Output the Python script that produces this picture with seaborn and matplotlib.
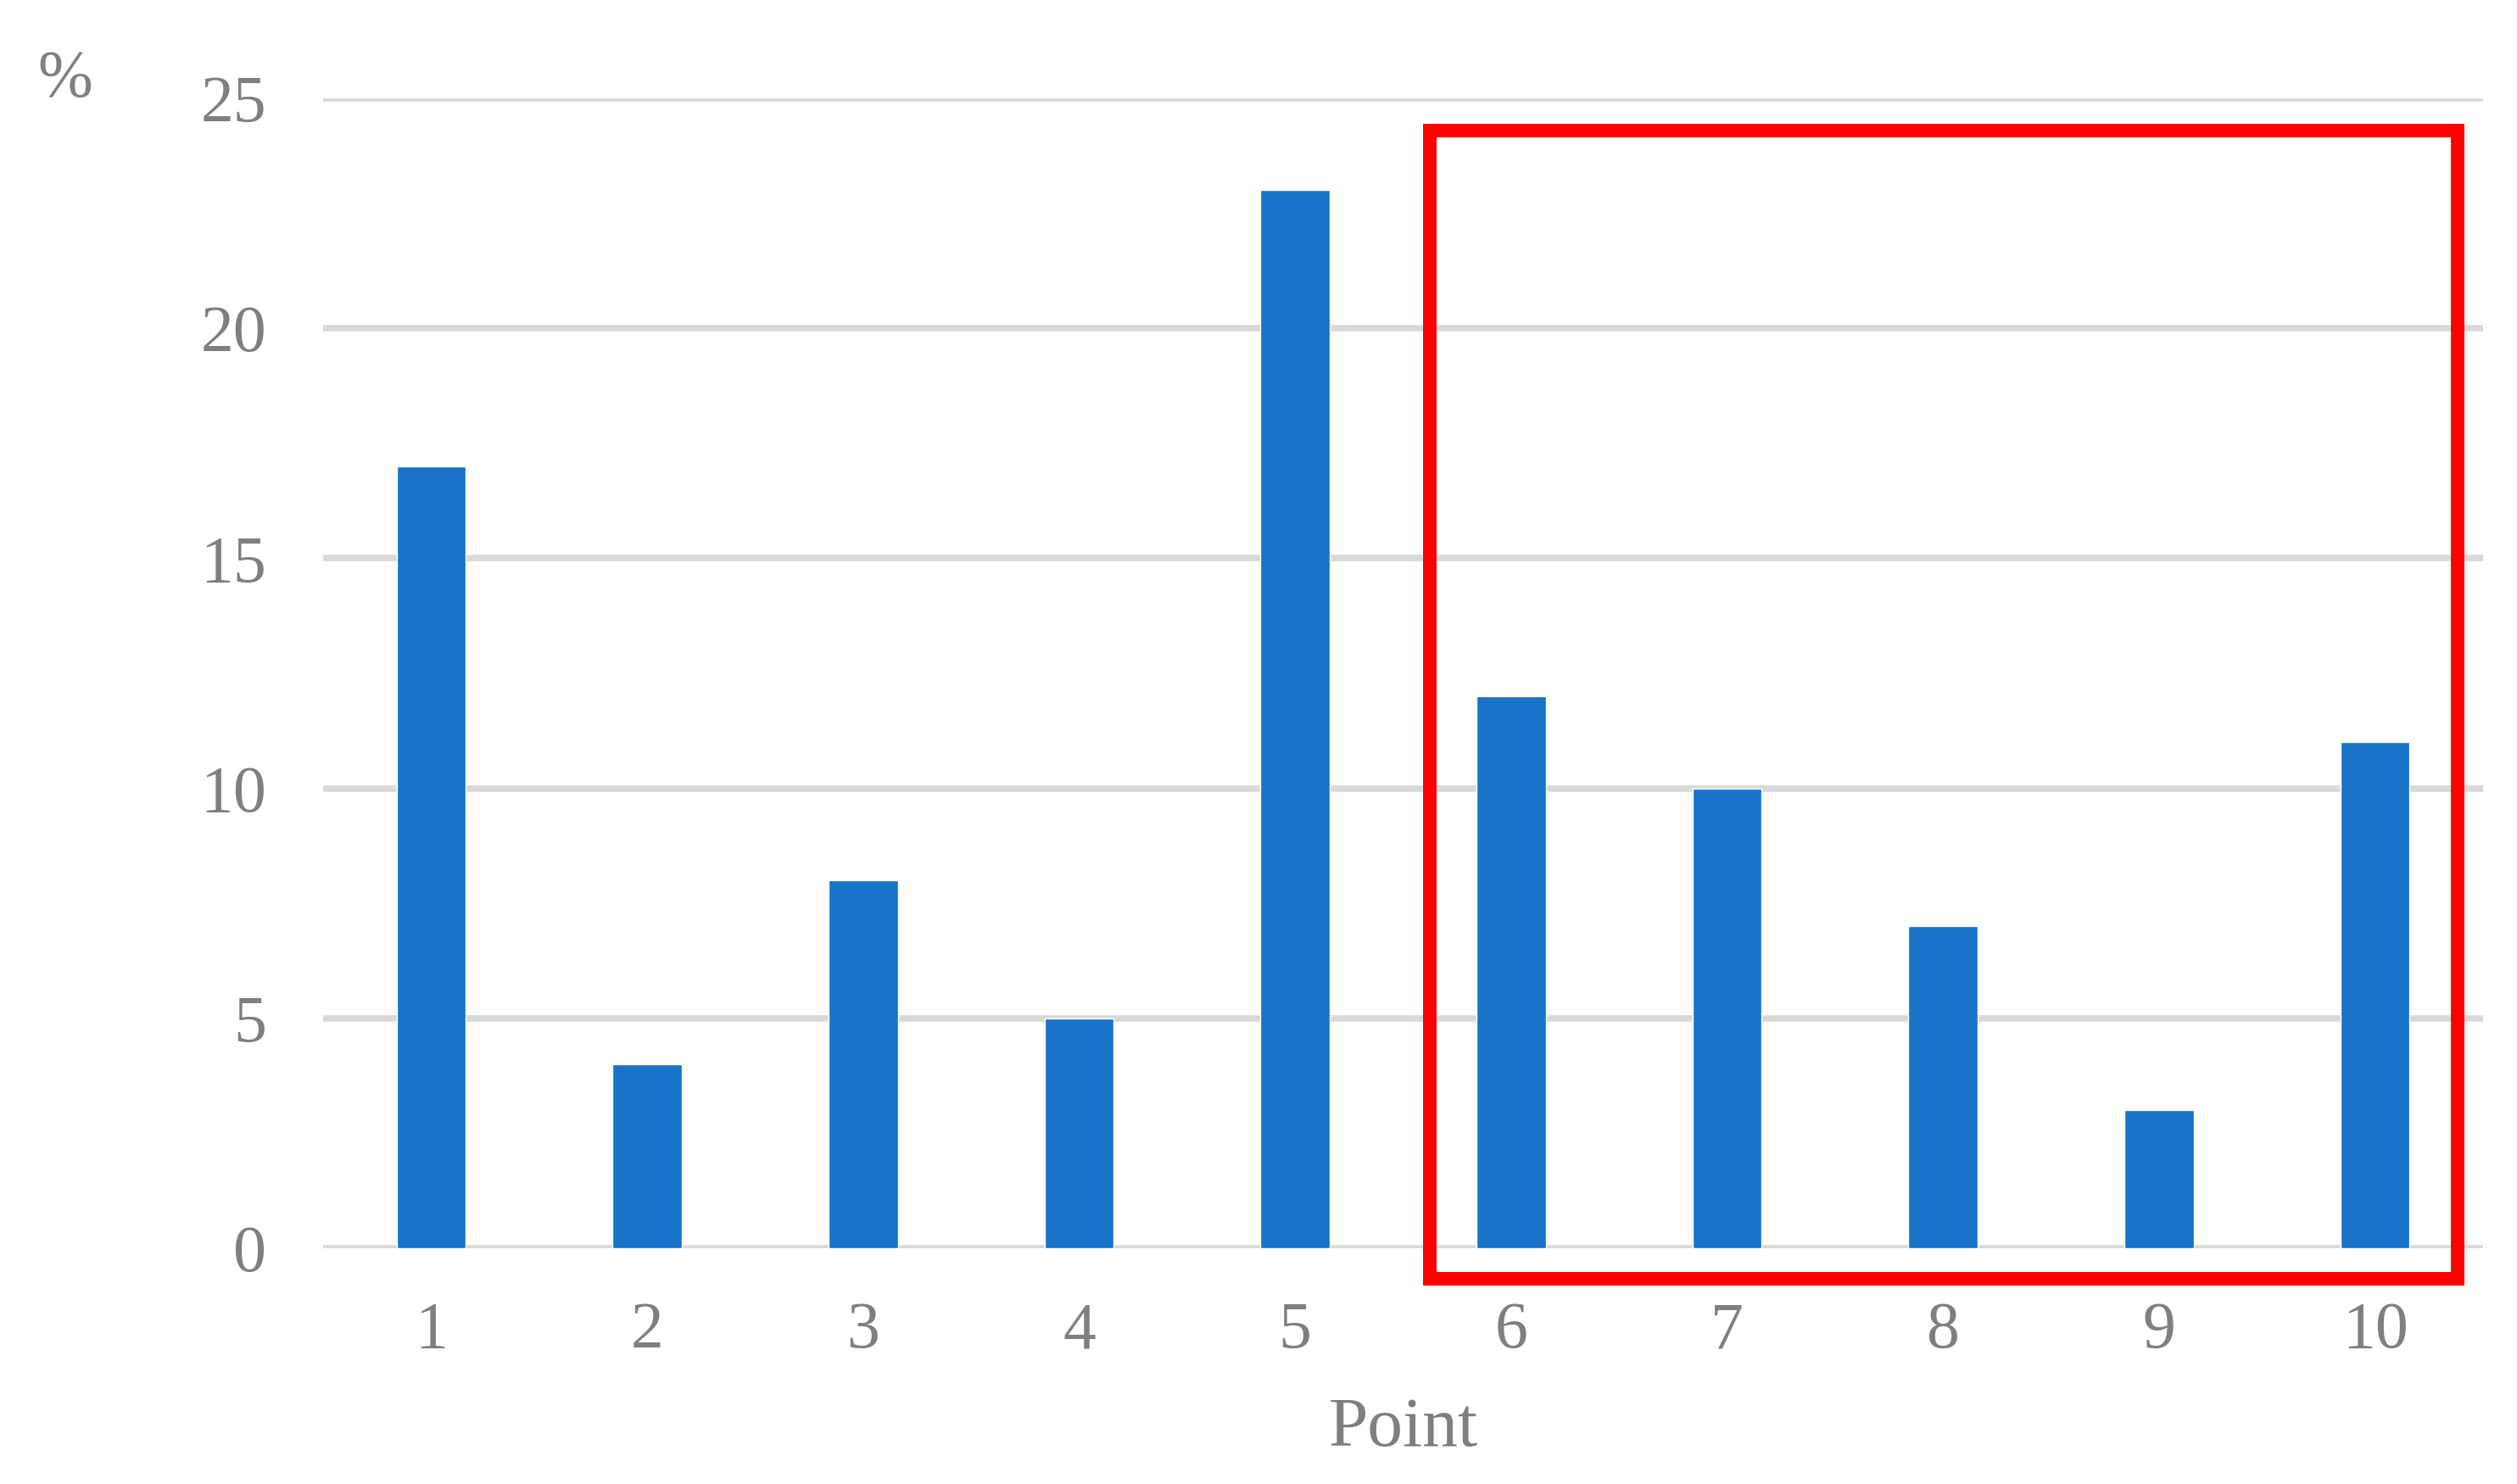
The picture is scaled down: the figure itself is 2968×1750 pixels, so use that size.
import matplotlib
matplotlib.use("Agg")
import matplotlib.pyplot as plt
import matplotlib.patches as mpatches
import seaborn as sns
import pandas as pd

points = ["1", "2", "3", "4", "5", "6", "7", "8", "9", "10"]
values = [17, 4, 8, 5, 23, 12, 10, 7, 3, 11]
y_ticks = [0, 5, 10, 15, 20, 25]

sns.set_theme(style="white")
plt.rcParams['font.family'] = ['Liberation Serif', 'DejaVu Serif']

df = pd.DataFrame({"Point": points, "Value": values})

fig = plt.figure(figsize=(29.68, 17.5), dpi=100)
ax = fig.add_axes([381/2968, (1750-1472)/1750, (2928-381)/2968, (1472-116)/1750])

sns.barplot(data=df, x="Point", y="Value", color="#1873C9", width=0.32,
            saturation=1, ax=ax, zorder=3)

ax.set_ylim(0, 25)
ax.set_xlim(-0.5, 9.5)
ax.set_yticks(y_ticks)
ax.set_yticklabels([str(t) for t in y_ticks])
ax.yaxis.grid(True, color="#D9D9D9", linewidth=5.5, zorder=0)
ax.xaxis.grid(False)
ax.set_axisbelow(True)
for s in ax.spines.values():
    s.set_visible(False)
ax.tick_params(axis="both", length=0, labelsize=56, labelcolor="#7F7F7F")
ax.tick_params(axis="y", pad=48)
ax.tick_params(axis="x", pad=45)
ax.set_ylabel("")
ax.set_xlabel("Point", fontsize=60, color="#7F7F7F", labelpad=30)

fig.text(77/2968, 1 - 94/1750, "%", fontsize=56, color="#7F7F7F",
         ha="center", va="center")

rect = mpatches.Rectangle((4.624, -0.66), 9.382 - 4.624, 24.30 + 0.66,
                          fill=False, edgecolor="#FF0000", linewidth=11.5,
                          clip_on=False, zorder=5, joinstyle="miter")
ax.add_patch(rect)

fig.savefig("out.png", dpi=100, facecolor="white")
